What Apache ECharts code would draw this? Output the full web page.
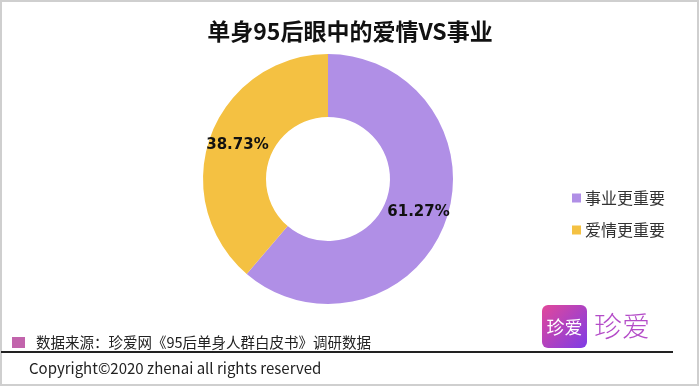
<!DOCTYPE html>
<html><head><meta charset="utf-8">
<script src="https://cdn.jsdelivr.net/npm/echarts@6/dist/echarts.min.js"></script>
<style>html,body{margin:0;padding:0;background:#fff}#c{width:700px;height:387px}</style>
</head><body><div id="c"></div>
<script>
const titleText = '单身95后眼中的爱情VS事业';
const categories = ['事业更重要', '爱情更重要'];
const values = [61.27, 38.73];
const colors = ['#B08FE6', '#F4C142'];
const sourceText = '数据来源：珍爱网《95后单身人群白皮书》调研数据';
const copyrightText = 'Copyright©2020 zhenai all rights reserved';
const font = '"Noto Sans CJK SC", "Microsoft YaHei", sans-serif';

const chart = echarts.init(document.getElementById('c'));
chart.setOption({
  animation: false,
  title: {
    text: titleText, left: 'center', top: 15,
    textStyle: { fontFamily: font, fontSize: 23, fontWeight: 'bold', color: '#111' }
  },
  legend: {
    orient: 'vertical', left: 567, top: 185, itemGap: 16,
    itemWidth: 9, itemHeight: 9, icon: 'rect', itemStyle: { borderWidth: 0 },
    data: categories,
    textStyle: { fontFamily: font, fontSize: 16, color: '#333', padding: [0, 0, 0, -1] }
  },
  series: [{
    type: 'pie', center: [328, 179], radius: [62, 125],
    startAngle: 90, clockwise: true,
    label: {
      position: 'inside', fontFamily: '"DejaVu Sans", sans-serif', fontSize: 15, fontWeight: 'bold',
      color: '#111', formatter: p => p.value.toFixed(2) + '%'
    },
    labelLine: { show: false },
    emphasis: { disabled: true },
    data: categories.map((n, i) => ({ name: n, value: values[i], itemStyle: { color: colors[i] } }))
  }],
  graphic: [
    { type: 'rect', shape: { x: 1, y: 1, width: 697, height: 384 }, style: { fill: 'none', stroke: '#cfcfcf', lineWidth: 2 }, silent: true },
    { type: 'rect', shape: { x: 12, y: 337, width: 13, height: 11 }, style: { fill: '#C264AC' } },
    { type: 'text', x: 36, y: 342, style: { text: sourceText, font: '14.5px ' + font, fill: '#222', verticalAlign: 'middle' } },
    { type: 'line', shape: { x1: 1, y1: 352, x2: 673, y2: 352 }, style: { stroke: '#222', lineWidth: 2 } },
    { type: 'text', x: 29, y: 368, style: { text: copyrightText, font: '15px ' + font, fill: '#222', verticalAlign: 'middle' } },
    { type: 'rect', shape: { x: 542, y: 305, width: 45, height: 43, r: 6 },
      style: { fill: new echarts.graphic.LinearGradient(0, 0, 1, 1, [{ offset: 0, color: '#E2489A' }, { offset: 1, color: '#7E3CE6' }]) } },
    { type: 'text', x: 564.5, y: 327, style: { text: '珍爱', font: '18px ' + font, fill: '#fff', align: 'center', verticalAlign: 'middle' } },
    { type: 'text', x: 622, y: 326, style: { text: '珍爱', font: '300 28px ' + font, fill: '#B44CC8', align: 'center', verticalAlign: 'middle' } }
  ]
});
</script></body></html>
